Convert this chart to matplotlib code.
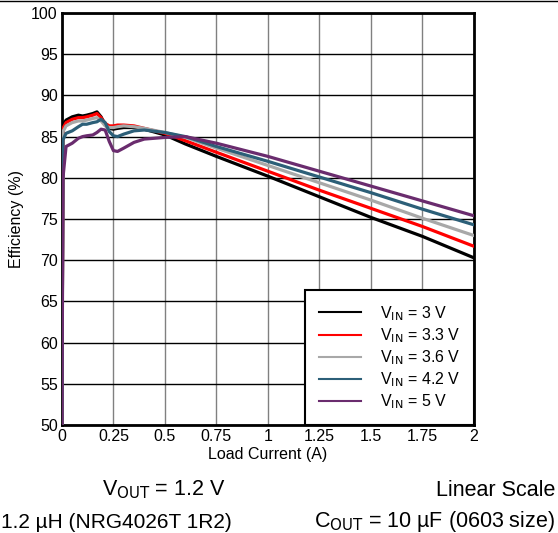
import matplotlib.pyplot as plt
from matplotlib.lines import Line2D

plt.rcParams['font.family'] = ['Liberation Sans', 'DejaVu Sans']

# load current (A)
x = [0, 0.005, 0.02, 0.05, 0.08, 0.1, 0.12, 0.15, 0.17, 0.19, 0.21, 0.23, 0.25,
     0.27, 0.3, 0.35, 0.4, 0.5, 0.6, 0.75, 1.0, 1.25, 1.5, 1.75, 2.0]

# efficiency (%) per input voltage
eff_3v = [50, 86.4, 87.0, 87.4, 87.6, 87.5, 87.6, 87.8, 88.0, 87.4, 86.4, 86.0, 85.9,
          86.0, 86.1, 86.1, 85.9, 85.2, 84.1, 82.6, 80.2, 77.7, 75.2, 72.9, 70.3]
eff_33v = [50, 86.0, 86.7, 87.1, 87.3, 87.3, 87.4, 87.6, 87.8, 87.3, 86.6, 86.3, 86.3,
           86.4, 86.4, 86.3, 86.0, 85.4, 84.5, 83.1, 80.8, 78.5, 76.3, 74.1, 71.7]
eff_36v = [50, 85.6, 86.3, 86.7, 86.9, 86.9, 87.0, 87.2, 87.3, 86.9, 86.3, 86.1, 86.1,
           86.2, 86.3, 86.2, 86.0, 85.5, 84.9, 83.6, 81.5, 79.4, 77.3, 75.1, 73.0]
eff_42v = [50, 84.6, 85.4, 85.7, 86.2, 86.5, 86.5, 86.7, 86.8, 87.1, 86.7, 85.6, 85.1,
           85.0, 85.3, 85.7, 85.8, 85.5, 85.0, 83.8, 82.0, 80.1, 78.2, 76.2, 74.3]
eff_5v = [50, 80.0, 83.8, 84.2, 84.8, 85.0, 85.1, 85.2, 85.5, 85.9, 85.8, 84.4, 83.3,
          83.2, 83.6, 84.3, 84.7, 84.9, 85.0, 84.2, 82.6, 80.8, 79.0, 77.2, 75.4]

series = [eff_3v, eff_33v, eff_36v, eff_42v, eff_5v]
labels = ['V$_{\\mathrm{IN}}$ = 3 V', 'V$_{\\mathrm{IN}}$ = 3.3 V', 'V$_{\\mathrm{IN}}$ = 3.6 V',
          'V$_{\\mathrm{IN}}$ = 4.2 V', 'V$_{\\mathrm{IN}}$ = 5 V']
colors = ['#000000', '#ff0000', '#a8a8a8', '#2c5f78', '#6a2c6e']

x_ticks = [0, 0.25, 0.5, 0.75, 1, 1.25, 1.5, 1.75, 2]
x_tick_labels = ['0', '0.25', '0.5', '0.75', '1', '1.25', '1.5', '1.75', '2']
y_ticks = list(range(50, 101, 5))

fig = plt.figure(figsize=(5.58, 5.33), dpi=100)
ax = fig.add_axes([0.111, 0.2026, 0.738, 0.773])

for y, lab, c in zip(series, labels, colors):
    ax.plot(x, y, color=c, lw=2.3, label=lab, zorder=3)

ax.set_xlim(0, 2)
ax.set_ylim(50, 100)
ax.set_xticks(x_ticks)
ax.set_xticklabels(x_tick_labels)
ax.set_yticks(y_ticks)
ax.tick_params(length=0, labelsize=11.5, pad=3)
# vertical grid gray, horizontal black
ax.xaxis.grid(True, color='#808080', lw=1)
ax.yaxis.grid(True, color='#000000', lw=1)
ax.set_axisbelow(True)
for s in ax.spines.values():
    s.set_linewidth(2)

ax.set_xlabel('Load Current (A)', fontsize=11.5, labelpad=2)
ax.set_ylabel('Efficiency (%)', fontsize=11.5, labelpad=5)

leg = ax.legend(loc='lower right', fontsize=11.5, fancybox=False, framealpha=1,
                edgecolor='black', borderaxespad=0, handlelength=2.6,
                labelspacing=0.22, borderpad=0.85, handletextpad=1.2)
leg.get_frame().set_linewidth(1.5)
for h in leg.get_lines():
    h.set_linewidth(1.5)

fig.text(164 / 558, 1 - 490 / 533, 'V$_{\\mathrm{OUT}}$ = 1.2 V', fontsize=15.5,
         ha='center', va='center')
fig.text(555 / 558, 1 - 490 / 533, 'Linear Scale', fontsize=15.5, ha='right', va='center')
fig.text(1 / 558, 1 - 522 / 533, '1.2 µH (NRG4026T 1R2)', fontsize=15,
         ha='left', va='center')
fig.text(555 / 558, 1 - 522 / 533, 'C$_{\\mathrm{OUT}}$ = 10 µF (0603 size)', fontsize=15.5,
         ha='right', va='center')

fig.add_artist(Line2D([0, 1], [0.999, 0.999], color='black', lw=1, transform=fig.transFigure))

fig.savefig('out.png', dpi=100)
